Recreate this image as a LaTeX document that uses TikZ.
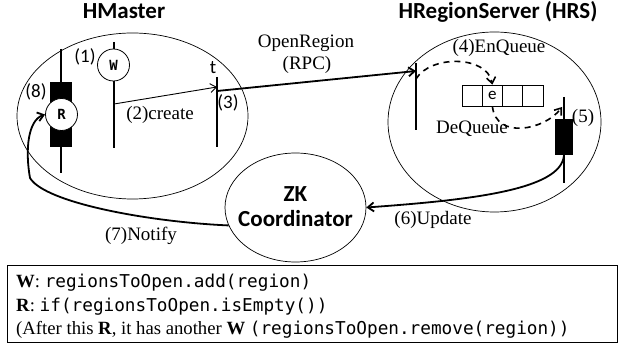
\documentclass[tikz,border=0pt]{standalone}
\usepackage{fontspec}
\setmainfont{Liberation Serif}
\setsansfont{Carlito}
\setmonofont{DejaVu Sans Mono}
\usetikzlibrary{arrows.meta,shapes.geometric}
\newcommand{\mycode}[1]{\texttt{\fontsize{17.7}{20}\selectfont #1}}
\begin{document}
\begin{tikzpicture}[x=1pt,y=-1pt,
  lbl/.style={font=\fontsize{19}{21}\selectfont, inner sep=0},
  slbl/.style={font=\sffamily\fontsize{19}{21}\selectfont, inner sep=0},
  ttl/.style={font=\sffamily\bfseries\fontsize{23}{26}\selectfont, inner sep=0},
  box/.style={draw, ellipse, line width=0.7pt, inner sep=0},
  proc/.style={draw, circle, minimum size=32pt, inner sep=0, fill=white, line width=0.8pt, font=\ttfamily\bfseries\fontsize{14}{16}\selectfont},
  tline/.style={line width=1.2pt},
  exec/.style={fill=black},
  cell/.style={draw, minimum width=20.25pt, minimum height=21pt, inner sep=0, line width=0.7pt, font=\sffamily\fontsize{17}{19}\selectfont},
  thin/.style={-{Straight Barb[length=6pt,width=9pt]}, line width=0.9pt},
  thick/.style={-{Straight Barb[length=6pt,width=9pt]}, line width=1.8pt},
  dsh/.style={-{Straight Barb[length=6pt,width=9pt]}, line width=1.6pt, dash pattern=on 6pt off 5pt},
  legtxt/.style={anchor=base west, inner sep=0, font=\fontsize{18.7}{22}\selectfont}
]
\useasboundingbox (0,0) rectangle (624,347);
% titles
\node[ttl, anchor=base] (tHM) at (124,18.5) {HMaster};
\node[ttl, anchor=base] (tHRS) at (498,18.5) {HRegionServer (HRS)};
% containers
\node[box, minimum width=231pt, minimum height=166pt] (hm) at (132.5,116) {};
\node[box, minimum width=213pt, minimum height=180pt] (hrs) at (494.5,122) {};
\node[box, minimum width=141pt, minimum height=109pt] (zk) at (295.5,207.5) {};
\node[ttl, anchor=base] (zk1) at (295.5,202) {ZK};
\node[ttl, anchor=base] (zk2) at (295.5,227) {Coordinator};
% HMaster timelines
\coordinate (rtop) at (61,49); \coordinate (rbot) at (61,173);
\draw[tline] (rtop) -- (rbot);
\fill[exec] (50,82) rectangle (72,147);
\node[proc] (R) at (61.5,114.5) {R};
\coordinate (wtop) at (114,42); \coordinate (wbot) at (114,148);
\draw[tline] (wtop) -- (wbot);
\node[proc] (W) at (113.5,65) {W};
\coordinate (ttop) at (217,77); \coordinate (tbot) at (217,147);
\draw[tline] (ttop) -- (tbot);
\node[slbl] (l1) at (85,57) {(1)};
\node[slbl] (l8) at (36,92) {(8)};
\node[slbl] (lt) at (213,68) {t};
\node[slbl] (l3) at (228,103) {(3)};
% create
\coordinate (cs) at (114,104); \coordinate (ce) at (217,87);
\draw[thin] (cs) -- (ce);
\node[lbl] (lc) at (160,115) {(2)create};
% HRS timelines
\coordinate (h1top) at (416,63); \coordinate (h1bot) at (416,130);
\draw[tline] (h1top) -- (h1bot);
\coordinate (h2top) at (564,97); \coordinate (h2bot) at (564,183);
\draw[tline] (h2top) -- (h2bot);
\fill[exec] (555,119) rectangle (573,155);
\coordinate (h2end) at (564,155);
\node[lbl] (l5) at (583,118) {(5)};
% open region
\coordinate (os) at (217,91); \coordinate (oe) at (416,71);
\draw[thick] (os) -- (oe);
\node[lbl] (lo1) at (306,43) {OpenRegion};
\node[lbl] (lo2) at (307,65) {(RPC)};
% queue
\node[cell] (q1) at (472.1,95.5) {};
\node[cell] (q2) at (492.4,95.5) {e};
\node[cell] (q3) at (512.6,95.5) {};
\node[cell] (q4) at (532.9,95.5) {};
\coordinate (es) at (416,79); \coordinate (dse) at (562,107);
\draw[dsh] (es) .. controls (430,55) and (487,55) .. (q2.north);
\draw[dsh] (q2.south) .. controls (496,140) and (545,130) .. (dse);
\node[lbl] (le) at (499,48) {(4)EnQueue};
\node[lbl] (ld) at (472,129) {DeQueue};
% update
\draw[thick] (h2end) .. controls (562,190) and (470,200) .. (zk.east);
\node[lbl] (lu) at (433,220) {(6)Update};
% notify
\coordinate (nb) at (30,178);
\draw[thick] (zk.195) .. controls (150,222) and (45,203) .. (nb) .. controls (25,150) and (28,120) .. (R.west);
\node[lbl] (ln) at (141,236) {(7)Notify};
% legend
\node[draw, line width=0.8pt, minimum width=610pt, minimum height=77pt, inner sep=0] (leg) at (312,303.5) {};
\node[legtxt] (lg1) at (16,288) {\textbf{W}: \mycode{regionsToOpen.add(region)}};
\node[legtxt] (lg2) at (16,312) {\textbf{R}: \mycode{if(regionsToOpen.isEmpty())}};
\node[legtxt] (lg3) at (16,335) {(After this \textbf{R}, it has another \textbf{W} \mycode{(regionsToOpen.remove(region))}};
\end{tikzpicture}
\end{document}
